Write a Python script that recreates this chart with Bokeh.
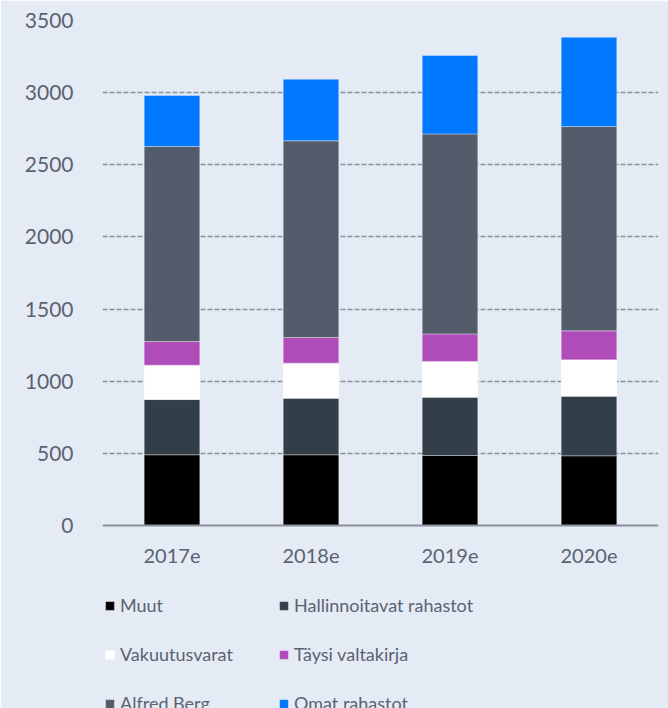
from bokeh.plotting import figure
from bokeh.models import Range1d, FactorRange, FixedTicker, Legend, LegendItem, Span
from bokeh.core.properties import value
from bokeh.embed import file_html
from bokeh.resources import INLINE

years = ["2017e", "2018e", "2019e", "2020e"]
series = ["Muut", "Hallinnoitavat rahastot", "Vakuutusvarat",
          "Täysi valtakirja", "Alfred Berg", "Omat rahastot"]
muut = [490, 490, 485, 483]
hallinnoitavat = [383, 392, 404, 413]
vakuutusvarat = [238, 243, 248, 252]
taysi = [164, 178, 191, 201]
alfred = [1352, 1363, 1386, 1416]
omat = [353, 427, 543, 619]
colors = ["#000000", "#323e48", "#ffffff", "#b04cba", "#535c6a", "#0078ff"]
y_ticks = [0, 500, 1000, 1500, 2000, 2500, 3000, 3500]

BG = "#e4ebf5"
TXT = "#5b6271"
FONT = "Lato"

Y_MAX = 3500
PLOT_PX = 505          # pixels between 0 and Y_MAX
BELOW_PX = 183         # pixels below the zero line (labels and legend)
Y_MIN = -Y_MAX * BELOW_PX / PLOT_PX
LABEL_Y = -Y_MAX * 30 / PLOT_PX   # x labels 30px below the zero line

data = dict(x=years)
for name, vals in zip(series, [muut, hallinnoitavat, vakuutusvarat, taysi, alfred, omat]):
    data[name] = vals

p = figure(x_range=FactorRange(*years, range_padding=0), y_range=Range1d(Y_MIN, Y_MAX),
           frame_width=556, frame_height=PLOT_PX + BELOW_PX,
           output_backend="svg", toolbar_location=None,
           min_border_left=102, min_border_right=10, min_border_top=20, min_border_bottom=0)
p.background_fill_color = BG
p.border_fill_color = BG
p.outline_line_color = None

rs = p.vbar_stack(series, x="x", width=0.4, source=data, color=colors,
                  line_color="white", line_alpha=0.35, line_width=1)

p.xgrid.grid_line_color = None
p.ygrid.grid_line_color = "#8a919b"
p.ygrid.grid_line_width = 1.5
p.ygrid.grid_line_dash = "5 2"
p.ygrid.ticker = FixedTicker(ticks=y_ticks[1:])

p.yaxis.ticker = FixedTicker(ticks=y_ticks)
p.yaxis.axis_line_color = None
p.yaxis.major_tick_line_color = None
p.yaxis.minor_tick_line_color = None
p.yaxis.major_label_standoff = 23
p.yaxis.major_label_text_font = FONT
p.yaxis.major_label_text_font_size = "21px"
p.yaxis.major_label_text_color = TXT

# category axis drawn at the zero line
p.xaxis.visible = False
p.add_layout(Span(location=0, dimension="width", line_color="#8a919b", line_width=2))
p.text(x=years, y=[LABEL_Y] * len(years), text=years,
       text_align="center", text_baseline="middle",
       text_font=value(FONT), text_font_size="20px", text_color=TXT)

# column-major order so that the two legend columns match the reference
order = [0, 2, 4, 1, 3, 5]
legend = Legend(items=[LegendItem(label=series[i], renderers=[rs[i]]) for i in order],
                orientation="vertical", nrows=3,
                location=(2, -6),
                glyph_width=11, glyph_height=11, label_standoff=5,
                label_width=131, label_height=20, spacing=27,
                padding=0, margin=0, border_line_color=None,
                background_fill_alpha=0,
                label_text_font=FONT, label_text_font_size="18px",
                label_text_color=TXT)
p.add_layout(legend, "center")

html = file_html(p, INLINE)
html = html.replace("<body>", '<body style="background:%s">' % BG, 1)
open("out.html", "w").write(html)
